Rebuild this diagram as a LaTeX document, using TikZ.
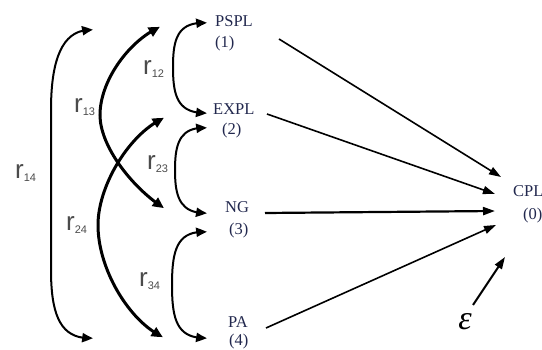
\documentclass[tikz,border=0pt]{standalone}
\usepackage{fontspec}
\setmainfont{Liberation Serif}
\newfontfamily\rfont{Liberation Sans}
\usetikzlibrary{arrows.meta,bending}
\definecolor{lblcol}{RGB}{34,40,78}
\definecolor{rcol}{RGB}{75,75,75}
\newcommand{\rlab}[1]{{\fontsize{26}{26}\selectfont r}\raisebox{-3pt}{\fontsize{11}{11}\selectfont #1}}
\tikzset{
  var/.style={anchor=base west, inner sep=0pt, text=lblcol, font=\fontsize{16.5}{16.5}\selectfont},
  rl/.style={anchor=base west, inner sep=0pt, text=rcol, font=\rfont},
  corr/.style={line width=2pt, {Triangle[length=11pt,width=9pt,bend]}-{Triangle[length=11pt,width=9pt,bend]}},
  corrthick/.style={line width=3pt, {Triangle[length=11pt,width=10pt,bend]}-{Triangle[length=11pt,width=10pt,bend]}},
  cplarrow/.style={line width=1.6pt, -{Triangle[length=12pt,width=8pt]}},
}
\begin{document}
\begin{tikzpicture}[x=1pt,y=-1pt]
\useasboundingbox (0,0) rectangle (542,350);
% variable labels
\node[var] (pspl) at (215,27) {PSPL};
\node[var] (n1) at (215,48) {(1)};
\node[var] (expl) at (213,115) {EXPL};
\node[var] (n2) at (222,135) {(2)};
\node[var] (ng) at (225,213) {NG};
\node[var] (n3) at (229,235) {(3)};
\node[var] (pa) at (228,328) {PA};
\node[var] (n4) at (229,346) {(4)};
\node[var] (cpl) at (513,197) {CPL};
\node[var] (n0) at (523,220) {(0)};
\node[anchor=base, inner sep=0pt, text=black, font=\fontsize{34}{34}\selectfont\itshape] (eps) at (465,330) {ε};
% correlation labels
\node[rl] (r12) at (143,75) {\rlab{12}};
\node[rl] (r13) at (74,113) {\rlab{13}};
\node[rl] (r14) at (15,179) {\rlab{14}};
\node[rl] (r23) at (147,170) {\rlab{23}};
\node[rl] (r24) at (66,231) {\rlab{24}};
\node[rl] (r34) at (139,287) {\rlab{34}};
% coordinates of arrow tips
\coordinate (a1t) at (207,23);
\coordinate (a2b) at (207,113);
\coordinate (a2t) at (207,128);
\coordinate (a3b) at (207,213);
\coordinate (a3t) at (207,232);
\coordinate (a4b) at (207,338);
\coordinate (b1) at (160,27);
\coordinate (b3) at (164,208);
\coordinate (b2) at (164,118);
\coordinate (b4) at (163,337);
\coordinate (c1) at (93,30);
\coordinate (c4) at (93,338);
% correlation arcs
\draw[corr] (a1t) .. controls (177,21) and (173,40) .. (173,67) .. controls (173,95) and (177,114) .. (a2b);
\draw[corr] (a2t) .. controls (179,126) and (175,145) .. (175,170) .. controls (175,195) and (179,214) .. (a3b);
\draw[corr] (a3t) .. controls (177,230) and (172,250) .. (172,285) .. controls (172,320) and (177,339) .. (a4b);
\draw[corr] (c1) .. controls (62,28) and (51,60) .. (51,110) -- (51,270) .. controls (51,318) and (62,340) .. (c4);
\draw[corrthick] (b1) .. controls (130,40) and (100,80) .. (100,115) .. controls (100,148) and (135,190) .. (b3);
\draw[corrthick] (b2) .. controls (130,133) and (98,185) .. (98,225) .. controls (98,270) and (130,322) .. (b4);
% paths to CPL
\coordinate (s1) at (279,39);
\coordinate (s2) at (267,114);
\coordinate (s3) at (265,213);
\coordinate (s4) at (266,328);
\coordinate (se) at (473,305);
\coordinate (t1) at (501,177);
\coordinate (t2) at (495,194);
\coordinate (t3) at (495,211);
\coordinate (t4) at (496,225);
\coordinate (te) at (505,257);
\draw[cplarrow] (s1) -- (t1);
\draw[cplarrow] (s2) -- (t2);
\draw[cplarrow, line width=2.2pt] (s3) -- (t3);
\draw[cplarrow] (s4) -- (t4);
\draw[cplarrow, line width=2pt] (se) -- (te);
\end{tikzpicture}
\end{document}
